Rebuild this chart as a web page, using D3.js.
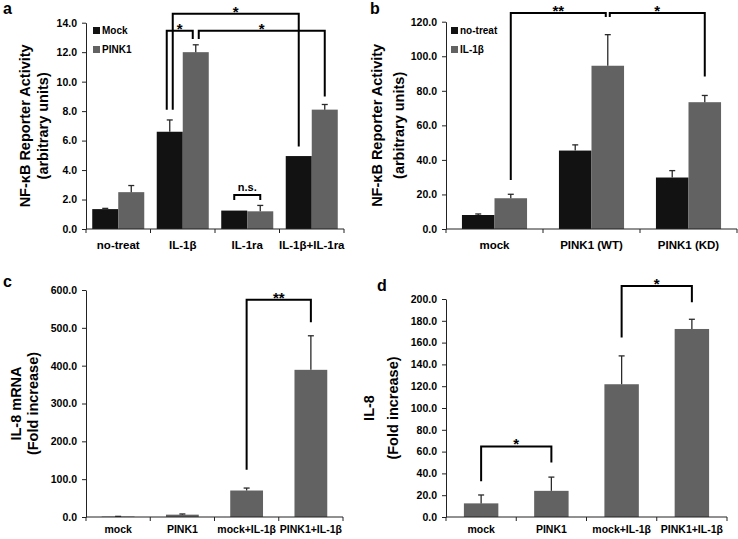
<!DOCTYPE html>
<html>
<head>
<meta charset="utf-8">
<script src="https://cdn.jsdelivr.net/npm/d3@7"></script>
<style>
  body { margin: 0; background: #fff; }
  text { font-family: Arial, "Liberation Sans", sans-serif; font-weight: bold; fill: #000; }
</style>
</head>
<body>
<script>
// panel a
var catsA = ["no-treat", "IL-1β", "IL-1ra", "IL-1β+IL-1ra"]
var mockA = [1.35, 6.6, 1.25, 4.95]
var mockErrA = [0.05, 0.8, 0, 0]
var pinkA = [2.5, 12.0, 1.2, 8.1]
var pinkErrA = [0.45, 0.5, 0.4, 0.35]
var ticksA = [0, 2, 4, 6, 8, 10, 12, 14]

// panel b
var catsB = ["mock", "PINK1 (WT)", "PINK1 (KD)"]
var notreatB = [8.1, 45.4, 29.8]
var notreatErrB = [0.6, 3.3, 4.0]
var il1bB = [17.8, 94.5, 73.4]
var il1bErrB = [2.3, 18.0, 3.9]
var ticksB = [0, 20, 40, 60, 80, 100, 120]

// panel c
var catsC = ["mock", "PINK1", "mock+IL-1β", "PINK1+IL-1β"]
var valsC = [1.2, 6.2, 70.0, 389]
var errC = [0.5, 1.8, 6.5, 90]
var ticksC = [0, 100, 200, 300, 400, 500, 600]

// panel d
var catsD = ["mock", "PINK1", "mock+IL-1β", "PINK1+IL-1β"]
var valsD = [12.5, 24.0, 121.8, 172.5]
var errD = [7.7, 12.6, 26.0, 8.9]
var ticksD = [0, 20, 40, 60, 80, 100, 120, 140, 160, 180, 200]

// brackets: [category, series, nudge, leg bottom value]
var bracketsA = [
    { a: [1, 0, -3, 8.1], b: [1, 1, -3, 12.9], top: 13.45, label: "*" },
    { a: [1, 0, 3, 8.1], b: [3, 0, 0, 5.6], top: 14.6, label: "*" },
    { a: [1, 1, 3, 12.9], b: [3, 1, 0, 9.0], top: 13.45, label: "*" },
    { a: [2, 0, 0, 1.97], b: [2, 1, 0, 1.97], top: 2.31, label: "n.s." }
]
var bracketsB = [
    { a: [0, 1, 0, 28.4], b: [1, 1, -2, 122.7], top: 125, label: "**" },
    { a: [1, 1, 2, 122.7], b: [2, 1, 0, 88.3], top: 125, label: "*" }
]
var bracketsC = [
    { a: [2, 0, 0, 125], b: [3, 0, 0, 515], top: 574, label: "**" }
]
var bracketsD = [
    { a: [0, 0, 0, 32.7], b: [1, 0, 0, 50], top: 64.7, label: "*" },
    { a: [2, 0, 0, 164.6], b: [3, 0, 0, 197], top: 212, label: "*" }
]

var dark = "#121212", gray = "#626262"

var svg = d3.select("body").append("svg")
    .attr("width", 738)
    .attr("height", 539)

function drawPanel(p) {
    var g = svg.append("g")
    var x = d3.scaleBand().domain(p.cats).range([p.left, p.right])
    var sub = d3.scaleBand().domain(d3.range(p.series.length))
        .range([0, x.bandwidth()]).paddingOuter(p.pad)
    var y = d3.scaleLinear().domain([0, p.max]).range([p.bottom, p.top])

    function cx(ci, si) {
        return x(p.cats[ci]) + sub(si) + sub.bandwidth() / 2
    }

    // bars + error bars
    p.series.forEach(function(s, si) {
        g.append("g").selectAll("rect")
            .data(s.values)
            .join("rect")
            .attr("x", function(d, i) { return x(p.cats[i]) + sub(si) })
            .attr("width", sub.bandwidth())
            .attr("y", function(d) { return y(d) })
            .attr("height", function(d) { return y(0) - y(d) })
            .attr("fill", s.color)

        var err = s.errs.map(function(e, i) { return { v: s.values[i], e: e, i: i } })
            .filter(function(d) { return d.e > 0 })
        var eg = g.append("g").attr("stroke", "#2a2a2a").attr("stroke-width", 1.3)
        eg.selectAll("line.v").data(err).join("line")
            .attr("class", "v")
            .attr("x1", function(d) { return cx(d.i, si) })
            .attr("x2", function(d) { return cx(d.i, si) })
            .attr("y1", function(d) { return y(d.v) })
            .attr("y2", function(d) { return y(d.v + d.e) })
        eg.selectAll("line.c").data(err).join("line")
            .attr("class", "c")
            .attr("x1", function(d) { return cx(d.i, si) - 3 })
            .attr("x2", function(d) { return cx(d.i, si) + 3 })
            .attr("y1", function(d) { return y(d.v + d.e) })
            .attr("y2", function(d) { return y(d.v + d.e) })
    })

    // y axis
    var ax = g.append("g")
        .attr("transform", "translate(" + p.left + ",0)")
        .call(d3.axisLeft(y).tickValues(p.ticks).tickFormat(d3.format(".1f"))
            .tickSize(4).tickSizeOuter(0).tickPadding(5))
    ax.selectAll("path, line").attr("stroke", "#222")
    ax.selectAll("text").attr("font-size", 10.5).attr("font-family", null).attr("fill", "#000")

    // x axis line and category ticks
    g.append("line")
        .attr("x1", p.left).attr("x2", p.right)
        .attr("y1", y(0)).attr("y2", y(0))
        .attr("stroke", "#222")
    var bounds = p.cats.map(function(c) { return x(c) }).concat([p.right])
    g.selectAll("line.xt").data(bounds).join("line")
        .attr("class", "xt")
        .attr("x1", function(d) { return d }).attr("x2", function(d) { return d })
        .attr("y1", y(0)).attr("y2", y(0) + 4)
        .attr("stroke", "#222")
    g.selectAll("text.xl").data(p.cats).join("text")
        .attr("class", "xl")
        .attr("x", function(d) { return x(d) + x.bandwidth() / 2 })
        .attr("y", y(0) + p.xlab)
        .attr("text-anchor", "middle")
        .attr("font-size", p.xsize)
        .text(function(d) { return d })

    // y titles
    p.titles.forEach(function(t) {
        g.append("text")
            .attr("transform", "translate(" + t[1] + "," + (p.top + p.bottom) / 2 + ") rotate(-90)")
            .attr("text-anchor", "middle")
            .attr("font-size", 14.5)
            .text(t[0])
    })

    // panel letter
    g.append("text")
        .attr("x", p.tag[1]).attr("y", p.tag[2])
        .attr("font-size", 16)
        .text(p.tag[0])

    // legend
    if (p.legend) {
        p.series.forEach(function(s, si) {
            g.append("rect")
                .attr("x", p.legend[0]).attr("y", p.legend[1] + si * 19)
                .attr("width", 7).attr("height", 7)
                .attr("fill", s.color)
            g.append("text")
                .attr("x", p.legend[0] + 9).attr("y", p.legend[1] + si * 19 + 7)
                .attr("font-size", 10)
                .text(s.name)
        })
    }

    // significance brackets
    var bg = g.append("g")
    p.brackets.forEach(function(b) {
        var xa = cx(b.a[0], b.a[1]) + b.a[2]
        var xb = cx(b.b[0], b.b[1]) + b.b[2]
        bg.append("path")
            .attr("d", "M" + xa + "," + y(b.a[3]) + "V" + y(b.top) + "H" + xb + "V" + y(b.b[3]))
            .attr("fill", "none")
            .attr("stroke", "#000")
            .attr("stroke-width", 2)
        var star = b.label.indexOf("*") >= 0
        bg.append("text")
            .attr("x", (xa + xb) / 2)
            .attr("y", y(b.top) + (star ? 3 : -4))
            .attr("text-anchor", "middle")
            .attr("font-size", star ? 15 : 11)
            .text(b.label)
    })
}

drawPanel({
    cats: catsA, left: 86, right: 344, top: 22.7, bottom: 229, max: 14, ticks: ticksA, pad: 0.24,
    series: [
        { name: "Mock", values: mockA, errs: mockErrA, color: dark },
        { name: "PINK1", values: pinkA, errs: pinkErrA, color: gray }
    ],
    legend: [93, 27], xlab: 20, xsize: 11.5,
    titles: [["NF-\u03baB Reporter Activity", 30], ["(arbitrary units)", 48]],
    tag: ["a", 3, 14], brackets: bracketsA
})

drawPanel({
    cats: catsB, left: 446, right: 737, top: 21.7, bottom: 229, max: 120, ticks: ticksB, pad: 0.49,
    series: [
        { name: "no-treat", values: notreatB, errs: notreatErrB, color: dark },
        { name: "IL-1\u03b2", values: il1bB, errs: il1bErrB, color: gray }
    ],
    legend: [451, 27], xlab: 20, xsize: 11.5,
    titles: [["NF-\u03baB Reporter Activity", 382], ["(arbitrary units)", 404]],
    tag: ["b", 370, 14], brackets: bracketsB
})

drawPanel({
    cats: catsC, left: 86, right: 343, top: 290, bottom: 517, max: 600, ticks: ticksC, pad: 0.48,
    series: [{ name: "", values: valsC, errs: errC, color: gray }],
    xlab: 16, xsize: 10.5,
    titles: [["IL-8 mRNA", 21], ["(Fold increase)", 38]],
    tag: ["c", 3, 287], brackets: bracketsC
})

drawPanel({
    cats: catsD, left: 446, right: 727, top: 299, bottom: 517, max: 200, ticks: ticksD, pad: 0.52,
    series: [{ name: "", values: valsD, errs: errD, color: gray }],
    xlab: 16, xsize: 10.5,
    titles: [["IL-8", 374], ["(Fold increase)", 398]],
    tag: ["d", 377, 291], brackets: bracketsD
})
</script>
</body>
</html>
